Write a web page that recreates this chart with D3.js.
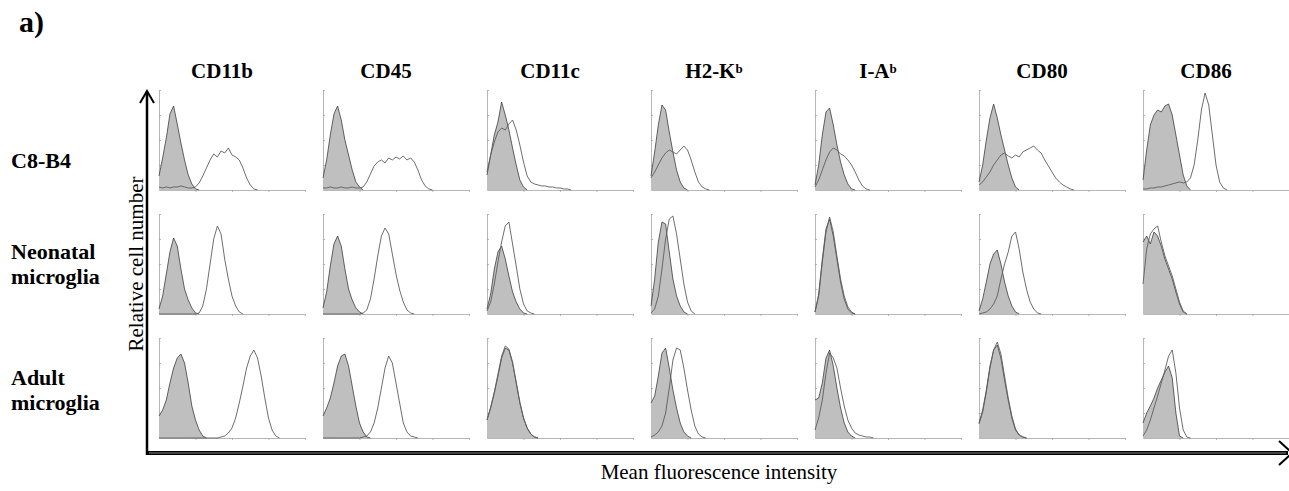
<!DOCTYPE html>
<html>
<head>
<meta charset="utf-8">
<script src="https://cdn.jsdelivr.net/npm/d3@7"></script>
<style>
  body { margin: 0; background: #fff; }
  svg { display: block; font-family: "Liberation Serif", "Times New Roman", serif; }
</style>
</head>
<body>
<svg id="chart"></svg>
<script>
// markers (columns) and cell types (rows)
const markers = ["CD11b", "CD45", "CD11c", "H2-K", "I-A", "CD80", "CD86"];
const markerSup = ["", "", "", "b", "b", "", ""];
const cellTypes = [["C8-B4"], ["Neonatal", "microglia"], ["Adult", "microglia"]];

// histogram heights (% of panel) per fluorescence channel bin (0..40 = 4 decades)
// grey = isotype control, open line = specific staining
const c8Isotype = [
  [14, 32, 52, 76, 84, 66, 47, 30, 15, 6, 1, 0],
  [12, 30, 55, 76, 84, 70, 50, 35, 20, 8, 3, 0],
  [15, 35, 55, 68, 88, 75, 60, 42, 25, 10, 3, 0],
  [14, 38, 65, 85, 80, 58, 38, 20, 8, 2, 0],
  [5, 25, 55, 78, 82, 65, 45, 28, 15, 6, 1, 0],
  [8, 25, 50, 72, 86, 72, 55, 40, 25, 12, 3, 0],
  [10, 40, 65, 75, 80, 78, 84, 86, 75, 55, 35, 15, 4, 0]
];
const c8Stained = [
  [3, 2, 3, 2, 3, 3, 4, 3, 2, 2, 3, 7, 14, 22, 30, 36, 33, 39, 37, 42, 35, 33, 30, 22, 12, 5, 1, 0],
  [2, 2, 3, 2, 2, 3, 2, 2, 3, 2, 2, 3, 8, 16, 24, 28, 30, 27, 32, 30, 33, 31, 34, 30, 32, 28, 20, 10, 4, 1, 0],
  [18, 35, 48, 58, 62, 60, 66, 70, 60, 45, 28, 14, 8, 6, 5, 4, 4, 3, 3, 2, 2, 1, 1, 0],
  [12, 18, 25, 32, 37, 40, 38, 36, 40, 44, 40, 30, 18, 8, 3, 1, 0],
  [3, 10, 20, 30, 38, 42, 40, 36, 34, 30, 25, 18, 10, 4, 1, 0],
  [5, 8, 13, 18, 25, 30, 35, 37, 34, 32, 35, 33, 38, 40, 42, 44, 40, 37, 30, 24, 18, 12, 8, 5, 3, 1, 0],
  [1, 1, 2, 2, 3, 3, 4, 5, 6, 7, 8, 7, 8, 12, 25, 50, 80, 97, 85, 55, 25, 8, 2, 0]
];
const neoIsotype = [
  [5, 18, 40, 62, 76, 68, 45, 25, 14, 6, 1, 0],
  [6, 22, 48, 70, 78, 68, 45, 25, 14, 6, 2, 0],
  [5, 20, 45, 62, 68, 55, 38, 22, 12, 5, 1, 0],
  [8, 35, 72, 92, 90, 62, 35, 18, 8, 2, 0],
  [2, 20, 55, 85, 95, 78, 55, 32, 15, 5, 1, 0],
  [3, 15, 32, 50, 60, 64, 50, 32, 18, 8, 2, 0],
  [72, 78, 70, 82, 78, 68, 55, 45, 35, 22, 10, 2, 0]
];
const neoStained = [
  [0, 0, 0, 0, 0, 0, 0, 0, 0, 0, 0, 1, 8, 25, 50, 75, 88, 80, 55, 35, 18, 8, 2, 0],
  [0, 0, 0, 0, 0, 0, 0, 0, 0, 0, 0, 1, 4, 15, 35, 58, 78, 86, 80, 60, 40, 24, 12, 4, 1, 0],
  [3, 12, 30, 52, 72, 88, 92, 70, 48, 25, 10, 3, 1, 0],
  [1, 5, 18, 45, 75, 95, 98, 80, 55, 30, 12, 3, 0],
  [2, 18, 52, 82, 97, 82, 58, 35, 18, 7, 2, 0],
  [0, 1, 2, 5, 10, 18, 35, 50, 62, 78, 82, 65, 42, 25, 12, 5, 1, 0],
  [30, 65, 80, 85, 88, 72, 58, 48, 38, 25, 12, 3, 0]
];
const adultIsotype = [
  [22, 28, 38, 55, 70, 80, 84, 75, 55, 32, 18, 8, 2, 0],
  [22, 30, 40, 55, 72, 82, 84, 72, 52, 32, 15, 6, 1, 0],
  [18, 30, 45, 62, 80, 90, 88, 75, 55, 35, 20, 10, 4, 1, 0],
  [35, 42, 62, 85, 90, 70, 48, 30, 15, 6, 2, 0],
  [38, 40, 55, 80, 88, 72, 50, 30, 15, 6, 2, 0],
  [15, 28, 48, 72, 88, 93, 80, 58, 38, 20, 8, 3, 1, 0],
  [15, 25, 32, 40, 50, 58, 66, 72, 60, 25, 2, 0]
];
const adultStained = [
  [0, 0, 0, 0, 0, 0, 0, 0, 0, 0, 0, 0, 0, 0, 0, 0, 0, 1, 2, 5, 10, 20, 35, 52, 70, 82, 88, 80, 62, 40, 20, 8, 2, 0],
  [0, 0, 0, 0, 0, 0, 0, 0, 0, 0, 0, 1, 2, 6, 15, 30, 50, 70, 82, 75, 55, 35, 15, 6, 2, 1, 0],
  [18, 31, 46, 64, 82, 92, 89, 76, 56, 36, 20, 10, 4, 1, 0],
  [1, 3, 6, 12, 25, 50, 78, 90, 88, 70, 48, 28, 12, 4, 1, 0],
  [8, 20, 38, 65, 85, 80, 70, 50, 32, 18, 10, 5, 3, 2, 1, 1, 0],
  [14, 26, 46, 70, 88, 96, 84, 62, 40, 22, 9, 3, 1, 0],
  [2, 8, 18, 30, 42, 55, 68, 82, 88, 65, 30, 8, 1, 0]
];

const isotype = [c8Isotype, neoIsotype, adultIsotype];
const stained = [c8Stained, neoStained, adultStained];
const xTicks = [10, 20, 30, 40];   // decades
const yTicks = [25, 50, 75, 100];

const width = 1289, height = 491;
const svg = d3.select("#chart").attr("width", width).attr("height", height)
  .attr("viewBox", [0, 0, width, height]);

// panel grid
const col = d3.scaleBand().domain(markers).range([159, 1289]).paddingInner(0.11);
const row = d3.scaleBand().domain(d3.range(cellTypes.length)).range([90, 438]).paddingInner(0.194);
const x = d3.scaleLinear().domain([0, 40]).range([0, col.bandwidth()]);
const y = d3.scaleLinear().domain([0, 100]).range([row.bandwidth(), 0]);

const area = d3.area().x((d, i) => x(i)).y0(y(0)).y1(d => y(d));
const line = d3.line().x((d, i) => x(i)).y(d => y(d));

const axisGrey = "#a3a3a3";

cellTypes.forEach((_, r) => {
  markers.forEach((m, c) => {
    const g = svg.append("g").attr("transform", `translate(${col(m)},${row(r)})`);

    g.append("g").attr("transform", `translate(0,${row.bandwidth()})`)
      .call(d3.axisBottom(x).tickValues(xTicks).tickSize(2).tickSizeOuter(0).tickFormat(""));
    g.append("g")
      .call(d3.axisLeft(y).tickValues(yTicks).tickSize(-2).tickSizeOuter(0).tickFormat(""));
    g.selectAll(".domain, .tick line").attr("stroke", axisGrey).attr("stroke-width", 0.8);

    // isotype control: filled grey
    g.append("path").datum(isotype[r][c])
      .attr("d", area)
      .attr("fill", "#bfbfbf");
    g.append("path").datum(isotype[r][c])
      .attr("d", line)
      .attr("fill", "none").attr("stroke", "#3d3d3d").attr("stroke-width", 0.8);

    // specific antibody: open histogram
    g.append("path").datum(stained[r][c])
      .attr("d", line)
      .attr("fill", "none").attr("stroke", "#5e5e5e").attr("stroke-width", 0.9);
  });
});

// column titles
svg.append("g").selectAll("text").data(markers).join("text")
  .attr("x", d => col(d) + col.bandwidth() / 2 - 10)
  .attr("y", 78)
  .attr("text-anchor", "middle")
  .attr("font-weight", "bold").attr("font-size", 21)
  .each(function(d, i) {
    const t = d3.select(this);
    t.append("tspan").text(d);
    if (markerSup[i]) t.append("tspan").attr("font-size", 13).attr("dy", -5).text(markerSup[i]);
  });

// row labels
const rowLabelY = [[168], [259, 284], [385, 410]];
cellTypes.forEach((lines, r) => {
  lines.forEach((s, k) => {
    svg.append("text")
      .attr("x", 11).attr("y", rowLabelY[r][k])
      .attr("font-weight", "bold").attr("font-size", 22)
      .text(s);
  });
});

// outer axes with arrows
svg.append("line").attr("x1", 147).attr("x2", 147).attr("y1", 455).attr("y2", 92)
  .attr("stroke", "#000").attr("stroke-width", 2.5);
svg.append("polyline").attr("points", "140,103 147,91 154,103")
  .attr("fill", "none").attr("stroke", "#000").attr("stroke-width", 2);

svg.append("line").attr("x1", 146).attr("x2", 1288).attr("y1", 453).attr("y2", 453)
  .attr("stroke", "#000").attr("stroke-width", 4);
svg.append("line").attr("x1", 149).attr("x2", 1286).attr("y1", 453).attr("y2", 453)
  .attr("stroke", "#8a8a8a").attr("stroke-width", 1);
svg.append("polyline").attr("points", "1279,441 1292,453 1279,465")
  .attr("fill", "none").attr("stroke", "#000").attr("stroke-width", 2);

svg.append("text")
  .attr("transform", "translate(143,264) rotate(-90)")
  .attr("text-anchor", "middle").attr("font-size", 21)
  .text("Relative cell number");

svg.append("text")
  .attr("x", 719).attr("y", 479)
  .attr("text-anchor", "middle").attr("font-size", 21)
  .text("Mean fluorescence intensity");

svg.append("text")
  .attr("x", 19).attr("y", 32)
  .attr("font-weight", "bold").attr("font-size", 30)
  .text("a)");
</script>
</body>
</html>
